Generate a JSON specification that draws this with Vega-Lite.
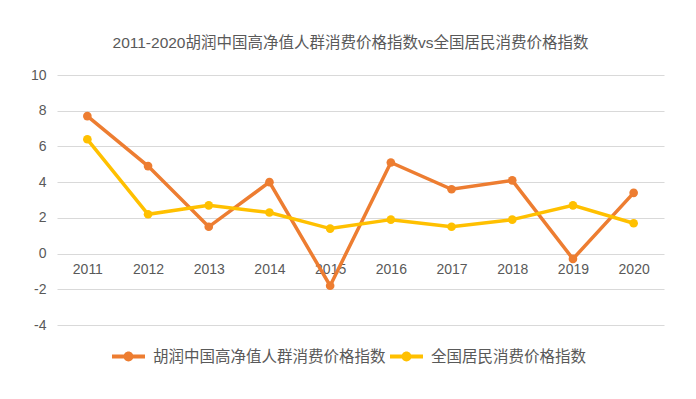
{
  "$schema": "https://vega.github.io/schema/vega-lite/v6.json",
  "autosize": {"type": "none"},
  "width": 607,
  "height": 250,
  "padding": {"left": 57, "top": 75, "right": 32, "bottom": 74},
  "background": "#ffffff",
  "title": {
    "text": "2011-2020胡润中国高净值人群消费价格指数vs全国居民消费价格指数",
    "anchor": "middle",
    "dx": -10,
    "offset": 2,
    "baseline": "bottom",
    "font": "Liberation Sans, Noto Sans CJK SC",
    "fontSize": 15.5,
    "fontWeight": "normal",
    "color": "#595959"
  },
  "config": {
    "view": {"stroke": null},
    "font": "Liberation Sans, Noto Sans CJK SC"
  },
  "data": {
    "values": [
      {"year": "2011", "series": "胡润中国高净值人群消费价格指数", "value": 7.7},
      {"year": "2012", "series": "胡润中国高净值人群消费价格指数", "value": 4.9},
      {"year": "2013", "series": "胡润中国高净值人群消费价格指数", "value": 1.5},
      {"year": "2014", "series": "胡润中国高净值人群消费价格指数", "value": 4.0},
      {"year": "2015", "series": "胡润中国高净值人群消费价格指数", "value": -1.8},
      {"year": "2016", "series": "胡润中国高净值人群消费价格指数", "value": 5.1},
      {"year": "2017", "series": "胡润中国高净值人群消费价格指数", "value": 3.6},
      {"year": "2018", "series": "胡润中国高净值人群消费价格指数", "value": 4.1},
      {"year": "2019", "series": "胡润中国高净值人群消费价格指数", "value": -0.3},
      {"year": "2020", "series": "胡润中国高净值人群消费价格指数", "value": 3.4},
      {"year": "2011", "series": "全国居民消费价格指数", "value": 6.4},
      {"year": "2012", "series": "全国居民消费价格指数", "value": 2.2},
      {"year": "2013", "series": "全国居民消费价格指数", "value": 2.7},
      {"year": "2014", "series": "全国居民消费价格指数", "value": 2.3},
      {"year": "2015", "series": "全国居民消费价格指数", "value": 1.4},
      {"year": "2016", "series": "全国居民消费价格指数", "value": 1.9},
      {"year": "2017", "series": "全国居民消费价格指数", "value": 1.5},
      {"year": "2018", "series": "全国居民消费价格指数", "value": 1.9},
      {"year": "2019", "series": "全国居民消费价格指数", "value": 2.7},
      {"year": "2020", "series": "全国居民消费价格指数", "value": 1.7}
    ]
  },
  "encoding": {
    "x": {
      "field": "year",
      "type": "ordinal",
      "scale": {"type": "point", "padding": 0.5},
      "axis": {
        "title": null,
        "labelAngle": 0,
        "domain": false,
        "ticks": false,
        "grid": false,
        "offset": -71.4,
        "labelPadding": 9,
        "labelFontSize": 14,
        "labelColor": "#595959",
        "labelFont": "Liberation Sans"
      }
    },
    "y": {
      "field": "value",
      "type": "quantitative",
      "scale": {"domain": [-4, 10], "nice": false, "zero": false},
      "axis": {
        "title": null,
        "values": [-4, -2, 0, 2, 4, 6, 8, 10],
        "labelExpr": "toString(datum.value)",
        "domain": false,
        "ticks": false,
        "grid": true,
        "gridColor": "#d9d9d9",
        "gridWidth": 1,
        "labelPadding": 11,
        "labelFontSize": 14,
        "labelColor": "#595959",
        "labelFont": "Liberation Sans"
      }
    },
    "color": {
      "field": "series",
      "type": "nominal",
      "sort": ["胡润中国高净值人群消费价格指数", "全国居民消费价格指数"],
      "scale": {
        "domain": ["胡润中国高净值人群消费价格指数", "全国居民消费价格指数"],
        "range": ["#ED7D31", "#FFC000"]
      },
      "legend": {
        "title": null,
        "orient": "none",
        "direction": "horizontal",
        "legendX": 55,
        "legendY": 265,
        "symbolType": "M-1,-0.12L1,-0.12L1,0.12L-1,0.12Z M0.3,0A0.3,0.3,0,1,1,-0.3,0A0.3,0.3,0,1,1,0.3,0Z",
        "symbolSize": 1089,
        "symbolStrokeWidth": 0,
        "symbolOpacity": 1,
        "labelFontSize": 15.5,
        "labelColor": "#595959",
        "labelOffset": 8,
        "columnPadding": 4,
        "labelLimit": 400
      }
    }
  },
  "layer": [
    {
      "mark": {"type": "line", "strokeWidth": 3.5},
      "encoding": {"detail": {"field": "series"}}
    },
    {
      "mark": {"type": "point", "filled": true, "opacity": 1, "size": 75, "shape": "circle"}
    }
  ]
}
